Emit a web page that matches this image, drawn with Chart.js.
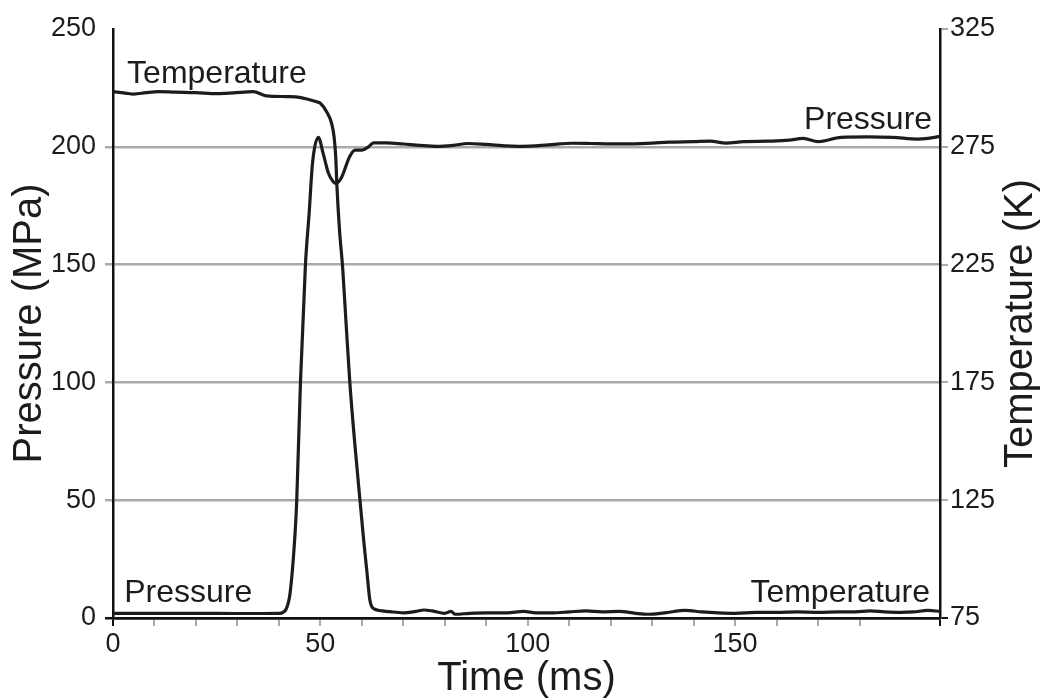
<!DOCTYPE html>
<html>
<head>
<meta charset="utf-8">
<script src="https://cdn.jsdelivr.net/npm/chart.js@4/dist/chart.umd.min.js"></script>
<style>
  html, body { margin:0; padding:0; background:#fff; }
  #wrap { width:1043px; height:700px; }
</style>
</head>
<body>
<div id="wrap"><canvas id="chart" width="1043" height="700"></canvas></div>
<script>
// time (ms) and pressure (MPa)
const pressureTime = [0,10,20,30,40,41,41.8,42.7,43.9,44.3,45.2,46.4,47.3,48.1,49.5,50.7,51.9,53.1,53.8,55.1,57.1,58.4,60,61.6,62.8,66,70,74,78,82,85.6,90,95,98.6,105,110.7,115,120,123.7,130,134,140,144,147.8,152,158,163,166.4,170,175.5,182,188,194,196.5,199.4];
const pressureValues = [2,2,2,1.9,2,2.4,4,10.6,36,50,100,150,172,193,204,197,189,185.2,184.5,187,196,198.6,198.6,200,201.7,201.7,201.2,200.6,200.2,200.6,201.4,201,200.4,200.2,200.8,201.5,201.4,201.2,201.2,201.6,202,202.2,202.4,201.6,202.2,202.4,202.8,203.6,202.2,204,204.2,204,203.3,203.6,204.4];

// time (ms) and temperature (K)
const temperatureTime = [0,3,5,8,11,15,20,25,29,33.8,37,42,45,49.1,50,51.5,52.7,53.3,53.7,54.0,54.6,55.4,56.2,57.1,58.3,59.6,60.5,61.2,61.9,62.4,63,66.8,70,73,75,77,80,81.5,82.5,86,90,95,99,102,106,110,114,118,122,126,129,133,138,142,146,150,155,160,165,170,175,179,182.5,186,190,193,196.5,199.4];
const temperatureValues = [298.4,297.8,297.4,298,298.4,298.2,298,297.6,297.9,298.4,296.6,296.3,296,294.1,293.5,289.9,285,279.3,270.8,258,240,223,200,175,149,124,107,95,83,79.8,78.8,77.7,77.2,77.8,78.4,78,77,77.8,76.6,77,77.2,77.2,77.8,77.2,77.2,77.6,78,77.6,77.8,77,76.6,77.2,78.2,77.6,77.2,77,77.4,77.4,77.6,77.4,77.6,77.6,78,77.6,77.4,77.6,78.2,77.8];

// axes
const timeRange = [0, 199.4];
const timeMajorTicks = [0, 50, 100, 150];
const pressureRange = [0, 250];
const temperatureRange = [75, 325];

// in-plot labels, in data units (time, pressure)
const curveLabels = [
  { text:'Temperature', t:3.4, p:227, align:'left' },
  { text:'Pressure', t:2.7, p:7, align:'left' },
  { text:'Pressure', t:197.5, p:207.5, align:'right' },
  { text:'Temperature', t:197, p:7, align:'right' }
];

const FONT = '"Liberation Sans", Arial, sans-serif';
const INK = '#1c1c1c';
const GRID = '#aaaaaa';

const toPoints = (xs, ys) => xs.map((x, i) => ({ x:x, y:ys[i] }));

const labelPlugin = {
  id:'labels',
  afterDraw(chart){
    const ctx = chart.ctx;
    const xs = chart.scales.x, ys = chart.scales.y;
    ctx.save();
    ctx.fillStyle = INK;
    ctx.font = '32px ' + FONT;
    ctx.textBaseline = 'alphabetic';
    curveLabels.forEach(l => {
      ctx.textAlign = l.align;
      ctx.fillText(l.text, xs.getPixelForValue(l.t), ys.getPixelForValue(l.p));
    });
    // right axis title, reading upwards like the left one
    const area = chart.chartArea;
    ctx.translate(1021, (area.top + area.bottom) / 2);
    ctx.rotate(-Math.PI / 2);
    ctx.font = '40px ' + FONT;
    ctx.textAlign = 'center';
    ctx.textBaseline = 'middle';
    ctx.fillText('Temperature (K)', 0, 0);
    ctx.restore();
  }
};

new Chart(document.getElementById('chart').getContext('2d'), {
  type:'line',
  data:{
    datasets:[
      { label:'Pressure', data:toPoints(pressureTime, pressureValues), yAxisID:'y',
        borderColor:INK, borderWidth:3.2, pointRadius:0, fill:false, cubicInterpolationMode:'monotone' },
      { label:'Temperature', data:toPoints(temperatureTime, temperatureValues), yAxisID:'y2',
        borderColor:INK, borderWidth:3.2, pointRadius:0, fill:false, cubicInterpolationMode:'monotone' }
    ]
  },
  options:{
    responsive:false,
    animation:false,
    layout:{ padding:{ top:29, left:0, right:0, bottom:0 } },
    plugins:{ legend:{ display:false }, tooltip:{ enabled:false } },
    scales:{
      x:{
        type:'linear', min:timeRange[0], max:timeRange[1],
        border:{ display:true, color:'#111', width:2.5 },
        grid:{ drawOnChartArea:false, drawTicks:true, tickLength:8, lineWidth:2,
          color:c => (c.tick && (c.tick.value === 0 || c.tick.value % 10 !== 0)) ? '#111' : GRID },
        ticks:{ stepSize:10, autoSkip:false, maxRotation:0, padding:2, color:INK,
          font:{ family:FONT, size:27 },
          callback:v => timeMajorTicks.includes(v) ? String(v) : '' },
        title:{ display:true, text:'Time (ms)', color:INK, font:{ family:FONT, size:40, lineHeight:1.05 }, padding:0 },
        afterFit:s => { s.height = 82; }
      },
      y:{
        position:'left', min:pressureRange[0], max:pressureRange[1],
        border:{ display:true, color:'#111', width:2.5 },
        grid:{ drawOnChartArea:true, drawTicks:true, tickLength:8, lineWidth:2.5,
          color:c => c.tick.value === 0 ? '#111' : (c.tick.value === pressureRange[1] ? 'rgba(0,0,0,0)' : GRID) },
        ticks:{ stepSize:50, padding:9, color:INK, font:{ family:FONT, size:27 } },
        title:{ display:true, text:'Pressure (MPa)', color:INK, font:{ family:FONT, size:40 }, padding:{ top:6, bottom:0 } },
        afterFit:s => { s.width = 113; }
      },
      y2:{
        position:'right', min:temperatureRange[0], max:temperatureRange[1],
        border:{ display:true, color:'#111', width:2.5 },
        grid:{ drawOnChartArea:false, drawTicks:true, tickLength:8, lineWidth:2,
          color:c => c.tick.value === temperatureRange[0] ? '#111' : GRID },
        ticks:{ stepSize:50, padding:2, color:INK, font:{ family:FONT, size:27 } },
        afterFit:s => { s.width = 103; }
      }
    }
  },
  plugins:[labelPlugin]
});
</script>
</body>
</html>
